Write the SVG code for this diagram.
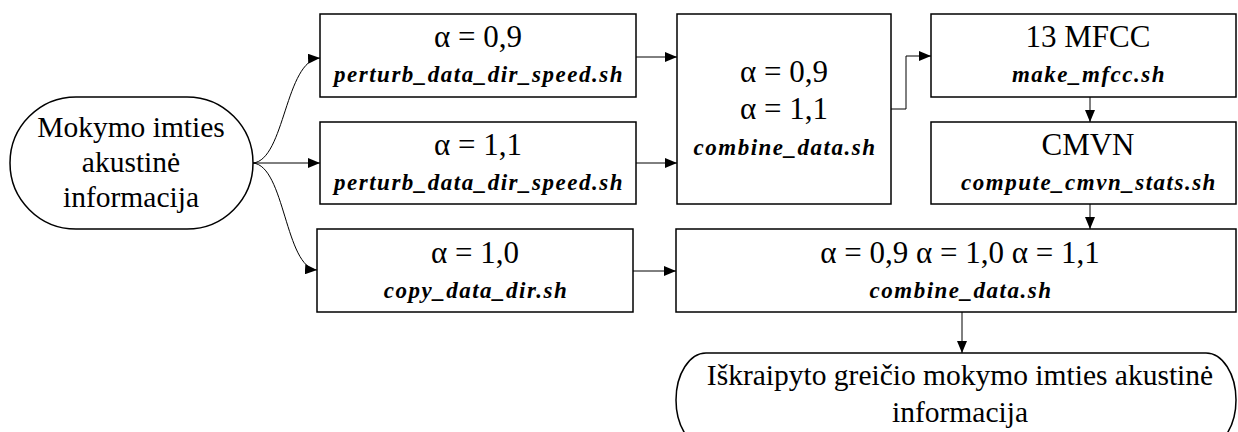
<svg xmlns="http://www.w3.org/2000/svg" width="1238" height="432" viewBox="0 0 1238 432">
<defs>
<marker id="ah" viewBox="0 0 12 10" refX="12" refY="5" markerWidth="12" markerHeight="10" markerUnits="userSpaceOnUse" orient="auto">
<path d="M0,0 L12,5 L0,10 Z" fill="#000"/>
</marker>
<style>
.box{fill:#fff;stroke:#000;stroke-width:1.5}
.c{fill:none;stroke:#000;stroke-width:1;marker-end:url(#ah)}
.t{font-family:"Liberation Serif","Times New Roman",serif;font-size:31px;text-anchor:middle;fill:#000}
.p{font-family:"Liberation Serif","Times New Roman",serif;font-size:29.5px;text-anchor:middle;fill:#000}
.s{font-family:"Liberation Serif","Times New Roman",serif;font-size:23px;font-weight:bold;font-style:italic;text-anchor:middle;fill:#000;letter-spacing:1.5px}
</style>
</defs>
<rect width="1238" height="432" fill="#fff"/>
<g id="connectors">
<path class="c" d="M253,163 C285,160 285,60 320,58"/>
<path class="c" d="M253,163 L320,163"/>
<path class="c" d="M253,163 C285,166 285,268 317,270"/>
<path class="c" d="M636,57 L677,57"/>
<path class="c" d="M636,163 L677,163"/>
<path class="c" d="M891,109 L906,109 L906,56 L931,56"/>
<path class="c" d="M1090,97 L1090,122"/>
<path class="c" d="M1090,204 L1090,229"/>
<path class="c" d="M633,271 L676,271"/>
<path class="c" d="M962,312 L962,353"/>
</g>
<g id="start">
<rect class="box" x="10" y="97" width="243" height="132" rx="66" ry="66"/>
<text class="p" x="131" y="137">Mokymo imties</text>
<text class="p" x="131" y="172">akustinė</text>
<text class="p" x="131" y="207">informacija</text>
</g>
<g id="perturb09">
<rect class="box" x="320" y="14" width="316" height="83"/>
<text class="t" x="478" y="47">α = 0,9</text>
<text class="s" x="479" y="82">perturb_data_dir_speed.sh</text>
</g>
<g id="perturb11">
<rect class="box" x="320" y="122" width="316" height="82"/>
<text class="t" x="478" y="155">α = 1,1</text>
<text class="s" x="479" y="190">perturb_data_dir_speed.sh</text>
</g>
<g id="combine1">
<rect class="box" x="677" y="14" width="214" height="190"/>
<text class="t" x="784" y="82">α = 0,9</text>
<text class="t" x="784" y="119">α = 1,1</text>
<text class="s" x="785" y="155">combine_data.sh</text>
</g>
<g id="mfcc">
<rect class="box" x="931" y="14" width="305" height="83"/>
<text class="t" x="1088" y="47">13 MFCC</text>
<text class="s" x="1089" y="82">make_mfcc.sh</text>
</g>
<g id="cmvn">
<rect class="box" x="931" y="122" width="305" height="82"/>
<text class="t" x="1088" y="155">CMVN</text>
<text class="s" x="1089" y="190">compute_cmvn_stats.sh</text>
</g>
<g id="copy">
<rect class="box" x="317" y="229" width="316" height="83"/>
<text class="t" x="475" y="263">α = 1,0</text>
<text class="s" x="476" y="298">copy_data_dir.sh</text>
</g>
<g id="combine2">
<rect class="box" x="676" y="229" width="560" height="83"/>
<text class="t" x="960" y="263">α = 0,9 α = 1,0 α = 1,1</text>
<text class="s" x="961" y="298">combine_data.sh</text>
</g>
<g id="end">
<rect class="box" x="676" y="353" width="560" height="94" rx="30" ry="47"/>
<text class="p" x="960" y="385">Iškraipyto greičio mokymo imties akustinė</text>
<text class="p" x="960" y="422">informacija</text>
</g>
</svg>
